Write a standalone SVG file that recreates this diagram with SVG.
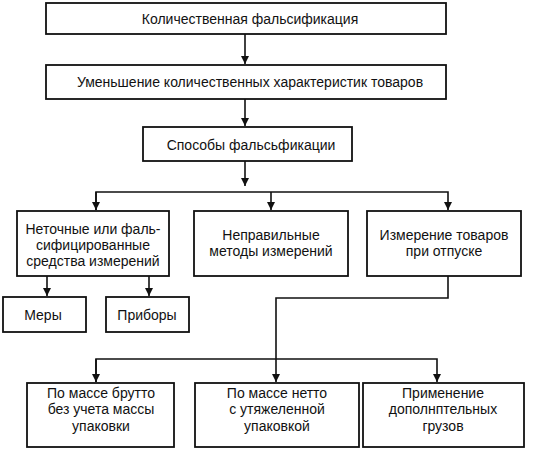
<svg xmlns="http://www.w3.org/2000/svg" width="542" height="449" viewBox="0 0 542 449">
<style>
.b{fill:#fff;stroke:#111;stroke-width:1.8}
.t{font-family:"Liberation Sans",Arial,sans-serif;font-size:14px;fill:#111;text-anchor:middle}
.c{fill:none;stroke:#111;stroke-width:1.6}
</style>
<defs>
<marker id="a" viewBox="0 0 8 10" refX="8" refY="5" markerWidth="8" markerHeight="10" markerUnits="userSpaceOnUse" orient="auto">
<path d="M0,1 L8,5 L0,9 Z" fill="#111"/>
</marker>
</defs>
<rect width="542" height="449" fill="#fff"/>
<g id="connectors">
<path class="c" d="M245,34 V64" marker-end="url(#a)"/>
<path class="c" d="M245,99 V126" marker-end="url(#a)"/>
<path class="c" d="M245,161 V186" marker-end="url(#a)"/>
<path class="c" d="M96,210 V192 H448 V210" marker-end="url(#a)"/>
<path class="c" d="M96,192 V210" marker-end="url(#a)"/>
<path class="c" d="M271,192 V210" marker-end="url(#a)"/>
<path class="c" d="M47,276 V296" marker-end="url(#a)"/>
<path class="c" d="M149,276 V296" marker-end="url(#a)"/>
<path class="c" d="M448,276 V298 H276 V382" marker-end="url(#a)"/>
<path class="c" d="M96,382 V359 H437 V382" marker-end="url(#a)"/>
<path class="c" d="M96,359 V382" marker-end="url(#a)"/>
</g>
<g id="n1"><rect class="b" x="46" y="3" width="400" height="31"/><text class="t" x="250" y="24">Количественная фальсификация</text></g>
<g id="n2"><rect class="b" x="46" y="65" width="400" height="34"/><text class="t" x="250" y="87">Уменьшение количественных характеристик товаров</text></g>
<g id="n3"><rect class="b" x="143" y="127" width="209" height="34"/><text class="t" x="251" y="150">Способы фальсьфикации</text></g>
<g id="n4"><rect class="b" x="17" y="211" width="152" height="65"/><text class="t" x="93" y="234">Неточные или фаль-</text><text class="t" x="93" y="250">сифицированные</text><text class="t" x="93" y="266">средства измерений</text></g>
<g id="n5"><rect class="b" x="194" y="211" width="154" height="65"/><text class="t" x="271" y="240">Неправильные</text><text class="t" x="271" y="256">методы измерений</text></g>
<g id="n6"><rect class="b" x="367" y="211" width="154" height="65"/><text class="t" x="444" y="240">Измерение товаров</text><text class="t" x="444" y="256">при отпуске</text></g>
<g id="n7"><rect class="b" x="3" y="297" width="83" height="35"/><text class="t" x="43" y="320">Меры</text></g>
<g id="n8"><rect class="b" x="106" y="297" width="83" height="35"/><text class="t" x="147" y="320">Приборы</text></g>
<g id="n9"><rect class="b" x="27" y="383" width="147" height="64"/><text class="t" x="101" y="398">По массе брутто</text><text class="t" x="101" y="414">без учета массы</text><text class="t" x="101" y="431">упаковки</text></g>
<g id="n10"><rect class="b" x="195" y="383" width="164" height="64"/><text class="t" x="277" y="398">По массе нетто</text><text class="t" x="277" y="414">с утяжеленной</text><text class="t" x="277" y="431">упаковкой</text></g>
<g id="n11"><rect class="b" x="363" y="383" width="161" height="64"/><text class="t" x="443" y="398">Применение</text><text class="t" x="443" y="414">дополнптельных</text><text class="t" x="443" y="431">грузов</text></g>
</svg>
